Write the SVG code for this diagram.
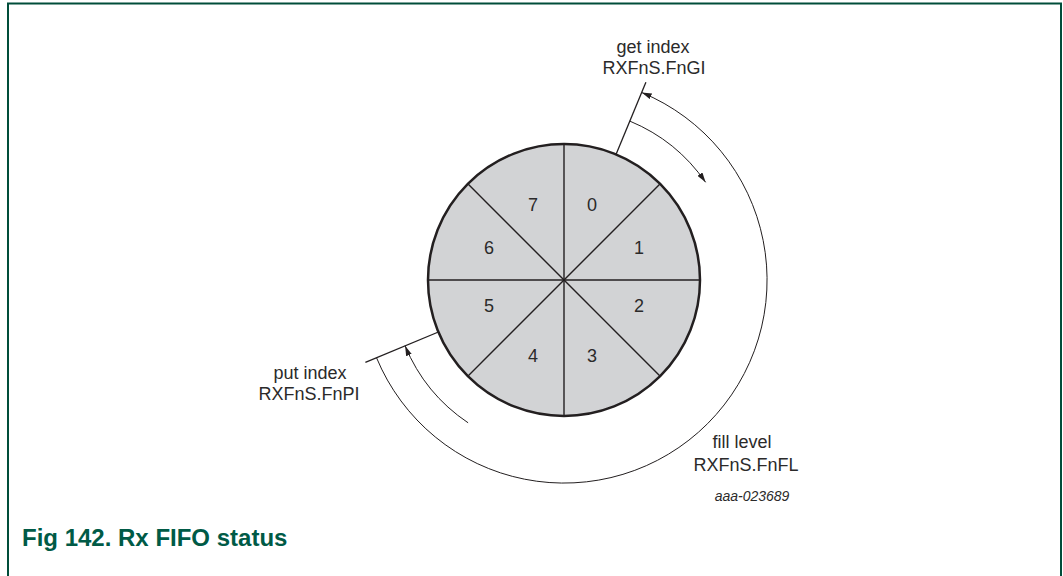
<svg xmlns="http://www.w3.org/2000/svg" width="1063" height="576" viewBox="0 0 1063 576">
<style>
.lbl{font-family:"Liberation Sans",Arial,sans-serif;font-size:18px;fill:#2b2a2a;text-anchor:middle}
.num{font-family:"Liberation Sans",Arial,sans-serif;font-size:18px;fill:#2b2a2a;text-anchor:middle}
.code{font-family:"Liberation Sans",Arial,sans-serif;font-size:14px;font-style:italic;fill:#2b2a2a;text-anchor:middle}
.title{font-family:"Liberation Sans",Arial,sans-serif;font-size:24px;font-weight:bold;fill:#005a46}
.arc{fill:none;stroke:#231f20;stroke-width:1}
.tick{fill:none;stroke:#231f20;stroke-width:1.3}
.sec{stroke:#231f20;stroke-width:1.4}
</style>
<defs>
<marker id="ah" viewBox="0 0 10 6" refX="10" refY="3" markerWidth="10" markerHeight="6" markerUnits="userSpaceOnUse" orient="auto-start-reverse">
<path d="M0,0 L10,3 L0,6 Z" fill="#231f20"/>
</marker>
</defs>
<g id="frame" fill="none" stroke="#004d3a" stroke-width="2">
<path d="M8,576 V3.5 H1061 V576"/>
</g>
<g id="fifo">
<circle cx="564" cy="280" r="136" fill="#d2d3d5" stroke="#231f20" stroke-width="2.5"/>
<line class="sec" x1="564" y1="144" x2="564" y2="416"/>
<line class="sec" x1="428" y1="280" x2="700" y2="280"/>
<line class="sec" x1="467.8" y1="183.8" x2="660.2" y2="376.2"/>
<line class="sec" x1="660.2" y1="183.8" x2="467.8" y2="376.2"/>
<text class="num" x="592" y="211">0</text>
<text class="num" x="639" y="254">1</text>
<text class="num" x="639" y="312">2</text>
<text class="num" x="592" y="362">3</text>
<text class="num" x="533" y="362">4</text>
<text class="num" x="489" y="312">5</text>
<text class="num" x="489" y="254">6</text>
<text class="num" x="533" y="211">7</text>
</g>
<g id="connectors">
<line class="tick" x1="616" y1="154.4" x2="645.9" y2="82.3"/>
<line class="tick" x1="438.4" y1="332" x2="365.4" y2="362.3"/>
<path class="arc" marker-start="url(#ah)" d="M641.7,92.5 A203,203 0 1 1 376.5,357.7"/>
<path class="arc" marker-end="url(#ah)" d="M629.8,121.1 A172,172 0 0 1 705.6,182.3"/>
<path class="arc" marker-end="url(#ah)" d="M468.1,422.8 A172,172 0 0 1 405.1,345.8"/>
</g>
<g id="get-index">
<text class="lbl" x="653" y="53">get index</text>
<text class="lbl" x="654" y="74">RXFnS.FnGI</text>
</g>
<g id="put-index">
<text class="lbl" x="310" y="379">put index</text>
<text class="lbl" x="309" y="400">RXFnS.FnPI</text>
</g>
<g id="fill-level">
<text class="lbl" x="742" y="448">fill level</text>
<text class="lbl" x="746" y="471">RXFnS.FnFL</text>
</g>
<text class="code" x="752" y="501">aaa-023689</text>
<text class="title" x="22" y="546">Fig 142. Rx FIFO status</text>
</svg>
